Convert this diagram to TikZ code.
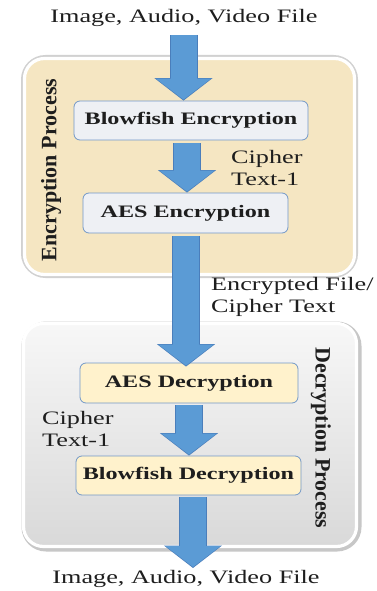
\documentclass[tikz,border=0pt]{standalone}
\usepackage{fontspec}
\setmainfont{Liberation Serif}[FakeStretch=1.38]
\newfontfamily\rotfont{Liberation Serif}
\usetikzlibrary{arrows.meta,calc}
\definecolor{arrowblue}{HTML}{5B9BD5}
\definecolor{arrowdark}{HTML}{4A7EBB}
\definecolor{boxedge}{HTML}{7298C8}
\definecolor{encfill}{HTML}{F5E6C2}
\definecolor{grayfill}{HTML}{EEF0F4}
\definecolor{yelfill}{HTML}{FFF2CC}
\definecolor{txt}{HTML}{1E1E1E}
\tikzset{
  lbl/.style={font=\fontsize{19}{22}\selectfont, text=txt, inner sep=0pt, align=left},
  proc/.style={rounded corners=6pt, draw=boxedge, line width=0.8pt, font=\fontsize{17.5}{20}\selectfont\bfseries, text=txt, inner sep=0pt},
  flow/.style={arrowblue, line width=26pt, shorten >=1pt, -{Triangle[length=21pt,width=54pt]},
    preaction={draw=arrowdark, line width=28pt, shorten >=0pt, -{Triangle[length=22.5pt,width=57pt]}}},
  rimline/.style={draw=white, line width=3.2pt, rounded corners=20pt},
  shadowline/.style={draw=black!18, line width=7pt, rounded corners=21pt},
  sidelbl/.style={font=\rotfont\fontsize{22}{24}\selectfont\bfseries, text=txt, inner sep=0pt}
}
\begin{document}
\begin{tikzpicture}[x=1pt,y=-1pt]
\useasboundingbox (0,0) rectangle (376,591);
\fill[white] (0,0) rectangle (376,591);
% encryption container
\draw[shadowline] (24.5,58.5) rectangle (354.5,274.5);
\draw[rimline, fill=encfill] (24.5,58.5) rectangle (354.5,274.5);
% decryption container
\draw[shadowline, draw=black!22] (25,325) rectangle (358,548);
\draw[rimline, top color=white!97!black, bottom color=black!15] (23.5,323.5) rectangle (356.5,546.5);

\node[sidelbl, rotate=90] (encp) at (51,170) {Encryption Process};
\node[sidelbl, rotate=-90] (decp) at (321,438) {Decryption Process};

\node[lbl, align=center] (in) at (184,18) {Image, Audio, Video File};
\node[lbl, align=center] (out) at (186,579) {Image, Audio, Video File};

\node[proc, fill=grayfill, minimum width=234pt, minimum height=39pt] (bfe) at (191,120.5) {Blowfish Encryption};
\node[proc, fill=grayfill, minimum width=205pt, minimum height=40pt] (aese) at (185.5,213) {AES Encryption};
\node[proc, fill=yelfill, minimum width=218pt, minimum height=40pt] (aesd) at (189,383) {AES Decryption};
\node[proc, fill=yelfill, minimum width=225pt, minimum height=39pt] (bfd) at (188.5,475.5) {Blowfish Decryption};

\node[lbl, anchor=west] (ct1) at (231,168) {Cipher\\Text-1};
\node[lbl, anchor=west] (ef) at (211,297) {Encrypted File/\\Cipher Text};
\node[lbl, anchor=west] (ct2) at (42,429) {Cipher\\Text-1};

\coordinate (a1s) at (183.5,35);
\coordinate (a5e) at (193,568);
\draw[flow] (a1s) -- (a1s |- bfe.north);
\draw[flow] ([yshift=-3pt]bfe.south -| 187,0) -- (187,0 |- aese.north);
\draw[flow] ([yshift=-3pt]aese.south -| 186,0) -- ([yshift=-4pt]186,0 |- aesd.north);
\draw[flow] ([yshift=-2pt]aesd.south -| 189,0) -- (189,0 |- bfd.north);
\draw[flow] ([yshift=-2pt]bfd.south -| 193,0) -- (a5e);
\end{tikzpicture}
\end{document}
